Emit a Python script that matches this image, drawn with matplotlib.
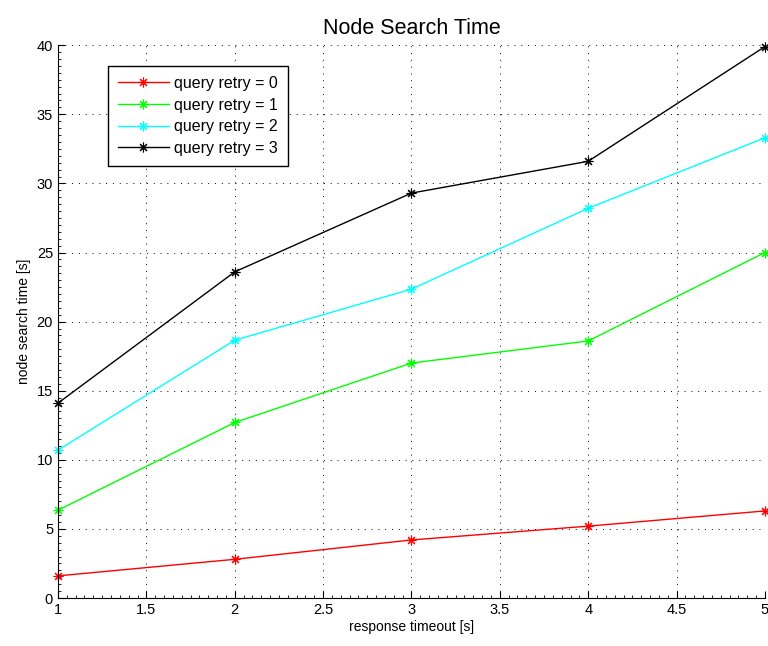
import matplotlib
matplotlib.use('Agg')
import matplotlib.pyplot as plt
from matplotlib.ticker import MultipleLocator, AutoMinorLocator

plt.rcParams['font.family'] = ['Liberation Sans', 'DejaVu Sans']

# data
timeout = [1, 2, 3, 4, 5]
retry0 = [1.6, 2.8, 4.2, 5.2, 6.3]
retry1 = [6.35, 12.7, 17.0, 18.6, 25.0]
retry2 = [10.7, 18.65, 22.35, 28.2, 33.3]
retry3 = [14.1, 23.6, 29.3, 31.6, 39.9]

labels = ['query retry = 0', 'query retry = 1', 'query retry = 2', 'query retry = 3']
colors = ['#ff0000', '#00ff00', '#00ffff', '#000000']

fig = plt.figure(figsize=(7.68, 6.46), dpi=100)
ax = fig.add_axes([0.0755, 0.0743, 0.9205, 0.8557])

for ys, lab, c in zip([retry0, retry1, retry2, retry3], labels, colors):
    ax.plot(timeout, ys, color=c, marker=(8, 2, 0), markersize=7,
            markeredgewidth=0.8, linewidth=1.0, label=lab, clip_on=False)

ax.set_xlim(1, 5)
ax.set_ylim(0, 40)
ax.xaxis.set_major_locator(MultipleLocator(0.5))
ax.yaxis.set_major_locator(MultipleLocator(5))
ax.xaxis.set_minor_locator(AutoMinorLocator(10))
ax.yaxis.set_minor_locator(AutoMinorLocator(10))
ax.xaxis.set_major_formatter(plt.FuncFormatter(lambda v, p: '%g' % v))

# matlab style: box off, ticks inside
ax.spines['top'].set_visible(False)
ax.spines['right'].set_visible(False)
ax.tick_params(which='both', direction='in', top=False, right=False, labelsize=10.5)
ax.tick_params(which='major', length=5, width=0.8)
ax.tick_params(which='minor', length=2, width=0.6)
ax.grid(True, which='major', linestyle=(0, (1, 6)), color='black', linewidth=0.7)

ax.set_title('Node Search Time', fontsize=15.5, pad=8)
ax.set_xlabel('response timeout [s]', fontsize=10, labelpad=2)
ax.set_ylabel('node search time [s]', fontsize=10, labelpad=4)

leg = ax.legend(loc='upper left', bbox_to_anchor=(0.0707, 0.962), fontsize=11.5,
                fancybox=False, framealpha=1, edgecolor='black',
                handlelength=3.2, handletextpad=0.35, borderpad=0.6,
                labelspacing=0.42, borderaxespad=0)
leg.get_frame().set_linewidth(1.0)

fig.savefig('out.png', dpi=100)
